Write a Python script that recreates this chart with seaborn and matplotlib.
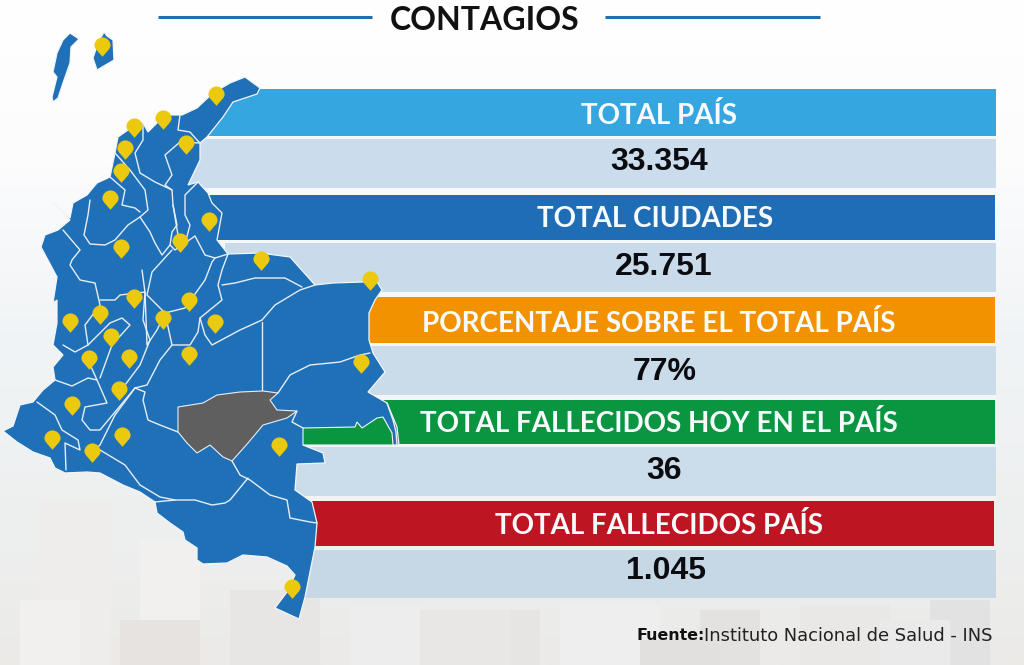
import numpy as np
import matplotlib
matplotlib.use("Agg")
import matplotlib.pyplot as plt
from matplotlib.colors import LinearSegmentedColormap
from matplotlib.patches import Polygon
from matplotlib.path import Path
import pandas as pd
import seaborn as sns

titulo = "CONTAGIOS"
rotulos = ["TOTAL PAÍS", "TOTAL CIUDADES", "PORCENTAJE SOBRE EL TOTAL PAÍS",
           "TOTAL FALLECIDOS HOY EN EL PAÍS", "TOTAL FALLECIDOS PAÍS"]
valores = ["33.354", "25.751", "77%", "36", "1.045"]

# franjas en pixeles: arriba, abajo, inicio, fin, color (las ultimas son los huecos claros)
franja_arriba = [89, 139, 195, 243, 297, 346, 400, 447, 501, 550, 136, 188, 240, 292, 343, 395, 444, 496, 546]
franja_abajo = [136, 188, 240, 292, 343, 395, 444, 496, 546, 598, 139, 195, 243, 297, 346, 400, 447, 501, 550]
franja_inicio = [205, 186, 205, 225, 365, 365, 300, 296, 312, 303, 206, 190, 217, 370, 365, 370, 300, 298, 312]
franja_fin = [996, 996, 995, 996, 995, 996, 995, 996, 994, 996, 996, 996, 996, 996, 996, 996, 996, 996, 996]
franja_color = ["#36a6e0", "#cbdcec", "#1f6db5", "#c9dbea", "#f39200",
                "#cadbea", "#0a9640", "#cbdcea", "#bd1622", "#c6d8e6",
                "#f5f8fb", "#f7f9fb", "#f5f8fb", "#f5f7f9", "#f3f6f9", "#f3f5f7", "#f1f4f7", "#f1f3f5", "#eef2f5"]

mapa = [(245, 77), (260, 88), (257, 94), (233, 102), (223, 117), (207, 137), (200, 143), (200, 160),
        (188, 185), (198, 182), (208, 193), (212, 203), (222, 213), (217, 240), (228, 254), (260, 253),
        (290, 257), (315, 285), (333, 283), (363, 282), (377, 282), (382, 290), (375, 300), (369, 313),
        (369, 340), (373, 353), (385, 372), (368, 392), (387, 403), (397, 427), (399, 445), (303, 445),
        (323, 453), (325, 463), (297, 464), (295, 490), (312, 502), (317, 523), (315, 547), (305, 597),
        (299, 619), (275, 608), (287, 592), (295, 575), (287, 566), (267, 557), (243, 555), (227, 563),
        (203, 564), (197, 560), (197, 548), (185, 540), (183, 532), (170, 523), (157, 513), (155, 502),
        (140, 492), (123, 485), (100, 473), (87, 472), (65, 473), (55, 468), (50, 458), (33, 452),
        (17, 442), (3, 431), (13, 426), (20, 405), (33, 402), (43, 390), (55, 380), (53, 367),
        (63, 355), (53, 345), (57, 323), (57, 300), (53, 303), (57, 277), (41, 247), (45, 235),
        (58, 230), (70, 220), (53, 203), (70, 218), (73, 203), (87, 195), (97, 183), (110, 177),
        (115, 153), (118, 137), (128, 130), (132, 122), (143, 123), (148, 132), (157, 123), (160, 115),
        (182, 115), (197, 108), (213, 93), (230, 83)]
isla_san_andres = [(70, 33), (79, 39), (71, 47), (70, 63), (63, 83), (58, 98), (53, 102), (52, 97),
                   (57, 77), (53, 72), (57, 53), (63, 40)]
isla_providencia = [(104, 32), (107, 36), (113, 40), (114, 60), (97, 70), (93, 58), (98, 43)]
zona_gris = [(178, 407), (203, 403), (217, 395), (240, 392), (263, 391), (278, 393), (270, 400), (277, 410),
             (297, 411), (287, 418), (263, 425), (248, 443), (232, 461), (223, 457), (210, 445), (197, 453),
             (187, 443), (178, 432)]
zona_verde = [(303, 428), (355, 427), (357, 422), (362, 428), (377, 418), (383, 417), (392, 433), (393, 445),
              (303, 445)]

limites = [
    [(143, 123), (143, 140), (135, 153), (140, 173), (155, 182), (172, 190), (173, 205), (177, 225), (172, 232),
     (170, 245), (162, 255), (155, 243), (150, 232), (140, 217), (128, 225), (115, 240), (105, 245), (90, 244),
     (84, 235), (88, 215), (90, 200)],
    [(115, 153), (130, 170), (145, 190), (148, 210), (140, 217)],
    [(110, 177), (125, 190), (122, 205), (135, 208), (140, 212)],
    [(180, 115), (178, 130), (190, 132), (197, 140), (200, 143), (180, 142), (165, 155), (172, 175), (165, 185),
     (172, 190)],
    [(198, 182), (185, 195), (185, 215), (190, 225), (186, 240), (178, 235), (173, 205)],
    [(170, 245), (175, 250), (195, 236), (205, 255), (215, 258), (228, 254), (222, 270), (218, 285), (222, 300),
     (200, 318), (205, 335), (212, 345), (240, 330), (262, 320), (275, 305), (300, 290), (315, 285)],
    [(172, 250), (152, 272), (147, 295), (165, 313), (185, 308), (205, 280), (212, 262), (215, 258)],
    [(222, 285), (235, 283), (255, 278), (285, 278), (302, 287)],
    [(262, 322), (262, 392)],
    [(178, 432), (160, 425), (148, 420), (143, 400), (145, 392), (135, 388)],
    [(278, 393), (290, 375), (310, 365), (340, 362), (360, 355), (370, 353)],
    [(297, 411), (292, 422), (303, 428)],
    [(232, 461), (240, 475), (250, 480), (270, 495), (287, 500), (290, 518), (310, 522), (317, 523)],
    [(248, 478), (230, 500), (225, 503), (212, 505), (195, 500), (175, 500), (155, 502)],
    [(100, 450), (125, 465), (140, 485), (160, 497), (175, 500)],
    [(135, 388), (115, 415), (100, 445), (92, 452)],
    [(37, 402), (55, 415), (62, 430), (78, 440), (80, 450), (65, 443), (66, 470)],
    [(88, 360), (97, 380), (107, 403), (85, 407), (82, 420), (90, 430), (100, 430), (135, 388)],
    [(63, 230), (80, 250), (72, 260), (70, 265), (80, 280), (95, 283), (100, 305), (85, 325), (88, 345), (75, 352),
     (63, 345)],
    [(100, 300), (115, 300), (120, 295), (145, 292), (143, 320), (150, 340), (140, 365), (125, 385)],
    [(145, 292), (147, 345), (157, 330), (165, 313)],
    [(142, 270), (145, 292)],
    [(88, 345), (110, 323), (122, 318), (130, 325), (112, 345), (100, 378)],
    [(55, 380), (72, 386), (88, 378), (97, 380)],
    [(172, 345), (190, 345), (198, 332), (200, 318)],
    [(165, 313), (172, 345), (160, 360), (147, 385), (135, 388)],
]

pin_x = [102, 216, 163, 134, 186, 125, 121, 110, 209, 121, 180, 261, 370, 134, 189, 100, 70, 163, 215, 111,
         89, 129, 189, 361, 119, 72, 122, 52, 92, 279, 292]
pin_y = [45, 94, 118, 126, 143, 148, 171, 198, 220, 247, 241, 259, 279, 297, 300, 313, 321, 318, 322, 336,
         358, 357, 354, 362, 389, 404, 435, 438, 451, 445, 587]

# edificios muy tenues de la foto de fondo
edificio_x = [40, 140, 230, 350, 470, 560, 700, 800, 930, 20, 120, 420, 640, 880]
edificio_y = [500, 540, 590, 605, 610, 605, 610, 605, 600, 600, 620, 610, 640, 620]
edificio_ancho = [70, 60, 90, 80, 70, 100, 60, 90, 60, 60, 80, 90, 80, 70]
edificio_color = ["#eeedec", "#f1f0ef", "#e8e6e4", "#eeeded", "#e6e5e4", "#efeeee", "#e4e2e0", "#e9e8e7",
                  "#e3e2e2", "#f1f0ef", "#e6e3e1", "#e9e7e6", "#e2e0de", "#ebeaea"]

sns.set_theme(style="white")
plt.rcParams["font.family"] = ["Lato", "DejaVu Sans"]

fig = plt.figure(figsize=(10.24, 6.65), dpi=100)
ax = fig.add_axes([0, 0, 1, 1])

fondo = LinearSegmentedColormap.from_list("fondo", ["#ffffff", "#fcfcfd", "#f1f4f6", "#eef0f0", "#ebeae8"])
ax.imshow(np.linspace(0, 1, 256).reshape(-1, 1), extent=(0, 1024, 665, 0), aspect="auto", cmap=fondo, zorder=0)
for ex, ey, ea, ec in zip(edificio_x, edificio_y, edificio_ancho, edificio_color):
    ax.fill_between([ex, ex + ea], ey, 665, color=ec, lw=0, zorder=0.5)

# franjas, una por una para poder dar el alto de cada una
for arriba, abajo, inicio, fin, color in zip(franja_arriba, franja_abajo, franja_inicio, franja_fin, franja_color):
    tabla = pd.DataFrame({"centro": [(arriba + abajo) / 2], "largo": [fin - inicio]})
    sns.barplot(data=tabla, x="largo", y="centro", orient="y", native_scale=True, width=abajo - arriba,
                left=inicio, color=color, saturation=1, linewidth=0, ax=ax, zorder=1)

# la primera franja termina en diagonal contra la costa
corte = Polygon([(264, 80), (1010, 80), (1010, 138), (204, 138), (235, 98)], transform=ax.transData, fill=False, lw=0)
ax.add_patch(corte)
ax.patches[0].set_clip_path(corte)

for forma, color in [(mapa, "#2070b8"), (isla_san_andres, "#2070b8"), (isla_providencia, "#2070b8")]:
    ax.add_patch(Polygon(forma, closed=True, fc=color, ec="#f2f6fa", lw=0.9, zorder=2))
for linea in limites:
    xs, ys = zip(*linea)
    ax.plot(xs, ys, color="#e6eef6", lw=1.0, zorder=3, solid_joinstyle="round")
ax.add_patch(Polygon(zona_verde, closed=True, fc="#0a9640", ec="#f2f6fa", lw=0.8, zorder=4))
ax.plot([387, 393, 396, 397], [403, 420, 432, 445], color="#e6eef6", lw=1.0, zorder=4)
ax.add_patch(Polygon(zona_gris, closed=True, fc="#5f5f5f", ec="#e6eef6", lw=0.8, zorder=4))

pin = Path([(0, -1.4), (0.5, -0.8), (1, -0.4), (1, 0), (1, 0.55), (0.55, 1), (0, 1), (-0.55, 1), (-1, 0.55), (-1, 0),
            (-1, -0.4), (-0.5, -0.8), (0, -1.4), (0, -1.4)],
           [Path.MOVETO, Path.CURVE4, Path.CURVE4, Path.CURVE4, Path.CURVE4, Path.CURVE4, Path.CURVE4,
            Path.CURVE4, Path.CURVE4, Path.CURVE4, Path.CURVE4, Path.CURVE4, Path.CURVE4, Path.CLOSEPOLY])
sns.scatterplot(x=pin_x, y=pin_y, marker=pin, s=265, color="#eac90f", linewidth=0, ax=ax, zorder=5, legend=False)

# titulo
ax.plot([158, 372], [16.5, 16.5], color="#2070b0", lw=2.2, solid_capstyle="butt", zorder=6)
ax.plot([605, 820], [16.5, 16.5], color="#2070b0", lw=2.2, solid_capstyle="butt", zorder=6)
ax.text(485, 20, titulo, ha="center", va="center", fontsize=23, fontweight="bold", color="#111111", zorder=6)

centros_rotulo = [(659, 115), (655, 219), (659, 324), (659, 424), (659, 526)]
centros_valor = [(659, 162), (664, 267), (665, 372), (664, 471), (666, 571)]
for texto, (tx, ty) in zip(rotulos, centros_rotulo):
    ax.text(tx, ty, texto, ha="center", va="center", fontsize=20, fontweight="bold", color="#f8fbfd", zorder=6)
for texto, (tx, ty) in zip(valores, centros_valor):
    ax.text(tx, ty, texto, ha="center", va="center", fontsize=23, fontweight="bold", color="#0c0c10",
            family="Liberation Sans", zorder=6)

ax.text(636, 636, "Fuente:", ha="left", va="center", fontsize=11.4, fontweight="bold", color="#111111",
        family="DejaVu Sans", zorder=6)
ax.text(704, 636, "Instituto Nacional de Salud - INS", ha="left", va="center", fontsize=12.9, color="#222222",
        family="DejaVu Sans", zorder=6)

ax.set_xlim(0, 1024)
ax.set_ylim(665, 0)
ax.axis("off")
fig.savefig("out.png", dpi=100)
